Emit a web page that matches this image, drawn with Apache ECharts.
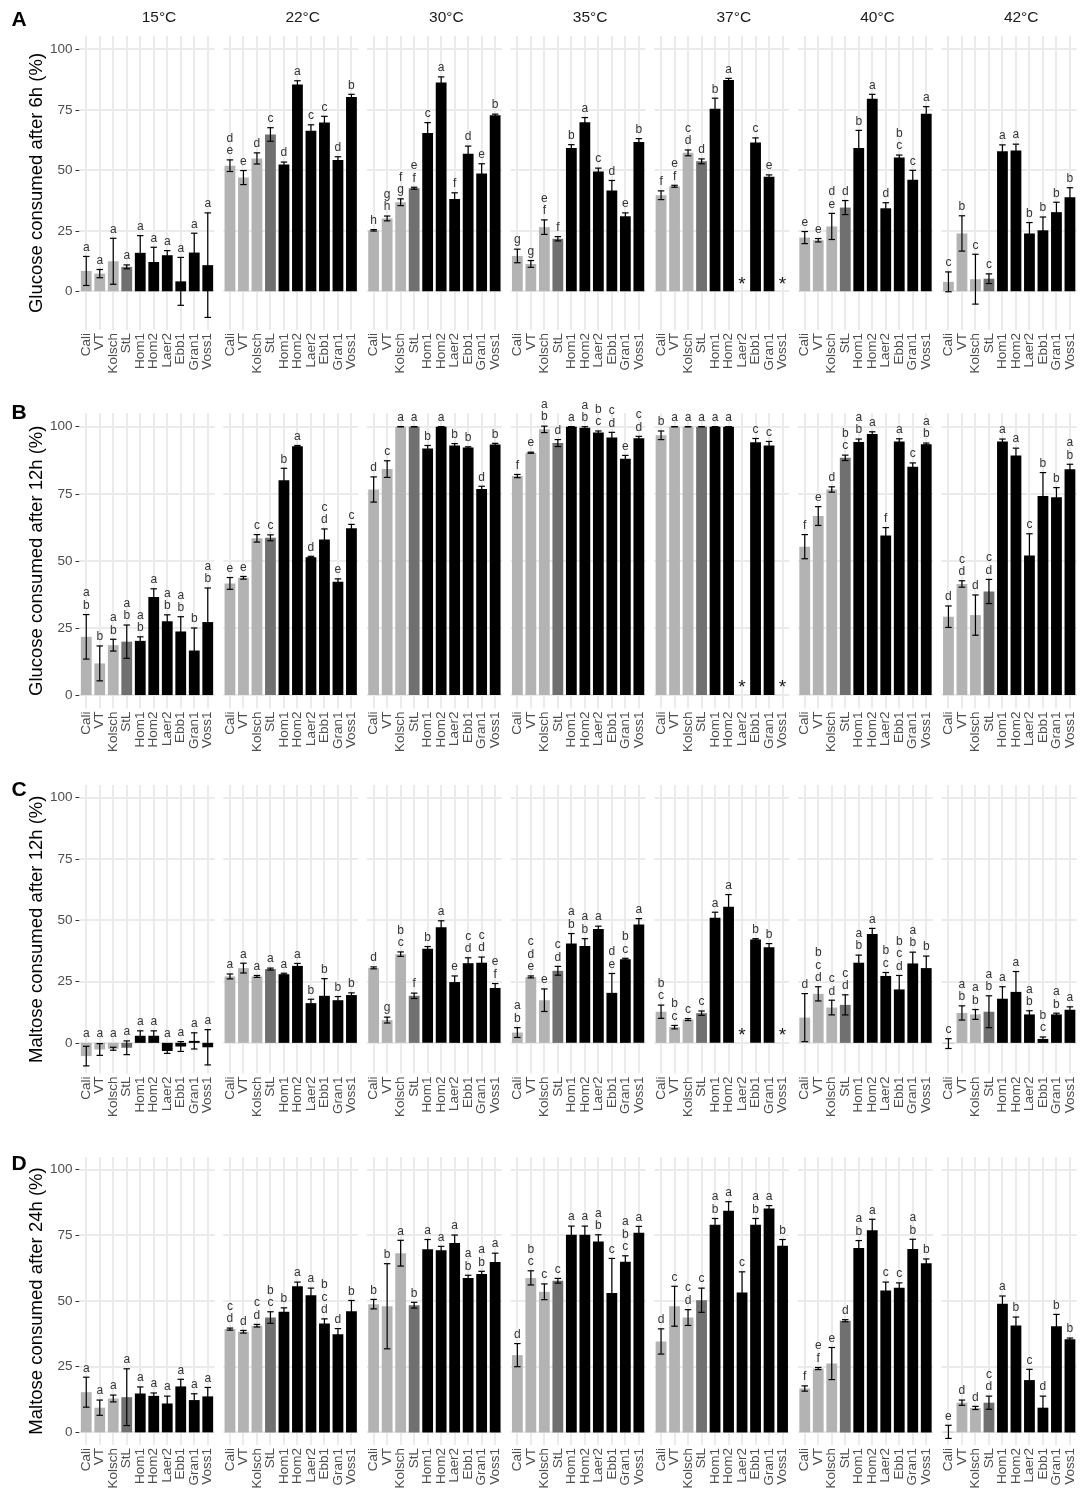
<!DOCTYPE html>
<html><head><meta charset="utf-8">
<script src="https://cdn.jsdelivr.net/npm/echarts@6/dist/echarts.min.js"></script>
<style>html,body{margin:0;padding:0;background:#fff}#c{width:1081px;height:1508px}</style>
</head><body><div id="c"></div><script>
// ---------------- DATA ----------------
const strains = ['Cali','VT','Kolsch','StL','Hom1','Hom2','Laer2','Ebb1','Gran1','Voss1'];
const temps = ['15°C','22°C','30°C','35°C','37°C','40°C','42°C'];
const yTicks = [0, 25, 50, 75, 100];
const rowTags = ['A','B','C','D'];
const rowTitles = ['Glucose consumed after 6h (%)','Glucose consumed after 12h (%)','Maltose consumed after 12h (%)','Maltose consumed after 24h (%)'];

// A: glucose consumed after 6h (%), one inner list per temperature
const glu6Mean = [
  [8.4,7.3,12.4,10.1,15.9,12.1,14.9,4.1,16.0,10.8],
  [51.9,47.0,54.9,64.8,52.4,85.5,66.3,69.8,54.3,80.3],
  [25.2,30.1,36.8,42.6,65.4,86.3,38.1,56.8,48.7,72.7],
  [14.6,11.3,26.5,21.7,59.2,69.9,49.5,41.7,31.0,61.7],
  [39.7,43.4,57.2,53.7,75.4,87.3,null,61.5,47.3,null],
  [22.2,21.1,26.8,34.6,59.2,79.6,34.3,55.3,46.1,73.4],
  [3.9,23.9,5.0,5.2,57.9,58.2,23.9,25.2,32.7,38.9]
];
const glu6Sd = [
  [6.0,1.7,9.5,0.8,7.1,6.1,1.9,9.9,8.0,21.6],
  [2.4,2.9,2.3,2.8,1.0,1.5,2.5,2.5,1.3,1.1],
  [0.3,1.0,1.4,0.4,4.3,2.3,2.6,3.2,4.0,0.5],
  [2.8,1.4,3.0,0.9,1.4,1.9,1.4,4.1,1.4,1.4],
  [1.8,0.4,1.2,1.0,4.4,0.7,null,1.9,0.8,null],
  [2.5,0.7,5.4,2.9,7.3,1.8,2.3,1.0,3.9,2.9],
  [4.1,7.3,10.3,2.0,2.6,2.6,4.5,5.5,4.1,3.9]
];
const glu6Letters = [
  ['a','a','a','a','a','a','a','a','a','a'],
  ['de','e','d','c','d','a','c','c','d','b'],
  ['h','gh','fg','ef','c','a','f','d','e','b'],
  ['g','g','ef','f','b','a','c','d','e','b'],
  ['f','ef','cd','d','b','a','*','c','e','*'],
  ['e','e','de','d','b','a','d','bc','c','a'],
  ['c','b','c','c','a','a','b','b','b','b']
];

// B: glucose consumed after 12h (%)
const glu12Mean = [
  [21.7,11.8,18.6,19.9,20.2,36.5,27.5,23.7,16.6,27.2],
  [41.6,43.7,58.4,58.6,80.0,92.7,51.4,58.0,42.2,62.2],
  [76.6,84.2,100,100,91.9,100,93.0,92.2,76.8,93.4],
  [81.6,90.3,99.0,93.9,100,99.6,97.8,96.0,88.1,95.7],
  [96.8,100,100,100,100,100,null,94.2,93.0,null],
  [55.3,66.7,76.6,88.4,94.3,97.3,59.5,94.5,85.1,93.5],
  [29.2,41.4,29.8,38.6,94.5,89.3,52.0,74.2,73.7,84.1]
];
const glu12Sd = [
  [8.3,6.5,2.2,6.2,1.5,3.1,2.4,5.5,8.4,12.7],
  [2.2,0.5,1.4,1.1,4.5,0.3,0.3,3.9,1.1,1.4],
  [4.7,3.1,0,0,1.1,0,0.7,0.3,1.0,0.4],
  [0.6,0.2,1.2,1.3,0,0.4,0.6,1.9,1.2,0.7],
  [1.6,0,0,0,0,0,null,1.4,1.5,null],
  [4.5,3.5,1.0,1.0,1.1,0.8,2.9,1.0,1.4,0.4],
  [4.0,1.2,7.5,4.5,0.9,2.7,8.1,8.7,3.6,1.9]
];
const glu12Letters = [
  ['ab','b','ab','ab','ab','a','ab','ab','b','ab'],
  ['e','e','c','c','b','a','d','cd','e','c'],
  ['d','c','a','a','b','a','b','b','d','b'],
  ['f','e','ab','d','a','ab','bc','cd','e','cd'],
  ['b','a','a','a','a','a','*','c','c','*'],
  ['f','e','d','bc','ab','a','f','a','c','ab'],
  ['d','cd','d','cd','a','a','c','b','b','ab']
];

// C: maltose consumed after 12h (%)
const mal12Mean = [
  [-5.4,-2.7,-2.4,-2.0,2.9,2.9,-3.3,-1.5,0.8,-1.8],
  [27.1,30.5,27.1,30.1,28.0,31.4,16.2,19.2,17.4,19.5],
  [30.6,9.3,36.2,19.2,38.4,47.2,24.8,32.5,32.7,22.4],
  [4.2,26.9,17.4,29.4,40.5,39.5,46.5,20.4,34.1,48.3],
  [12.7,6.4,9.5,12.1,51.0,55.5,null,42.2,39.0,null],
  [10.3,20.0,14.4,15.5,32.7,44.4,27.3,21.8,32.4,30.5],
  [-0.3,12.2,11.6,12.7,18.0,20.8,11.6,1.6,11.6,13.5]
];
const mal12Sd = [
  [4.0,2.4,0.6,2.8,2.0,2.0,1.0,2.0,3.3,7.2],
  [1.0,2.0,0.4,0.4,0.4,1.0,1.6,7.0,1.5,0.9],
  [0.4,1.2,0.9,1.1,0.9,2.6,2.5,2.2,2.3,1.8],
  [2.0,0.4,4.6,1.8,4.1,3.0,1.1,7.9,0.4,2.4],
  [2.7,0.7,0.4,0.9,2.3,5.0,null,0.3,1.5,null],
  [9.8,2.9,3.0,4.1,3.1,2.3,1.4,5.7,4.6,4.9],
  [2.0,2.9,2.0,6.5,4.9,8.3,1.5,0.8,0.5,1.2]
];
const mal12Letters = [
  ['a','a','a','a','a','a','a','a','a','a'],
  ['a','a','a','a','a','a','b','b','b','b'],
  ['d','g','bc','f','b','a','e','cd','cd','ef'],
  ['ab','cde','e','cd','ab','ab','a','de','bc','a'],
  ['bc','bc','c','c','a','a','*','b','b','*'],
  ['d','bcd','cd','cd','ab','a','bc','bcd','ab','b'],
  ['c','ab','ab','ab','a','a','ab','bc','ab','a']
];

// D: maltose consumed after 24h (%)
const mal24Mean = [
  [15.3,9.4,12.9,13.4,14.8,13.9,11.0,17.5,12.3,13.7],
  [39.3,38.3,40.6,43.7,45.9,55.6,52.2,41.4,37.3,46.1],
  [48.8,48.0,68.2,48.4,69.7,69.3,72.1,58.8,60.3,64.8],
  [29.4,58.8,53.5,57.7,75.2,75.2,72.6,53.0,64.9,76.0],
  [34.6,48.0,43.7,50.3,79.0,84.3,53.2,79.0,85.2,71.0],
  [16.7,24.3,26.2,42.5,70.2,76.9,54.0,55.0,69.8,64.4],
  [0.2,11.3,9.3,11.3,49.0,40.7,19.9,9.4,40.4,35.4]
];
const mal24Sd = [
  [5.7,2.9,1.3,10.8,2.5,1.1,2.8,2.7,2.4,3.4],
  [0.4,0.5,0.5,2.2,1.5,1.6,2.7,1.8,2.2,4.1],
  [1.8,16.2,4.9,1.1,3.7,1.5,3.0,1.0,1.0,3.4],
  [4.4,2.7,3.0,0.9,3.3,3.3,2.6,13.2,2.3,2.4],
  [4.8,7.6,3.0,4.6,2.4,3.5,7.9,2.4,1.1,2.4],
  [1.0,0.4,6.1,0.4,2.8,4.2,3.2,1.9,3.7,1.6],
  [2.5,1.0,0.6,2.5,2.9,3.2,4.1,4.4,4.5,0.5]
];
const mal24Letters = [
  ['a','a','a','a','a','a','a','a','a','a'],
  ['cd','d','cd','bc','b','a','a','bcd','d','b'],
  ['b','b','a','b','a','a','a','ab','ab','a'],
  ['d','bc','c','c','a','a','ab','c','abc','a'],
  ['d','c','cd','c','ab','a','c','ab','a','b'],
  ['f','ef','e','d','ab','a','c','c','ab','b'],
  ['e','d','d','cd','a','b','c','d','b','b']
];

// ---------------- STYLE / LAYOUT ----------------
const FONT = '"Liberation Sans", Arial, Helvetica, sans-serif';
const LIGHT = '#B3B3B3', DARK = '#707070', BLACK = '#000000', GRID = '#EBEBEB';
function barColor(i){ return i < 3 ? LIGHT : (i === 3 ? DARK : BLACK); }

const rowsMean = [glu6Mean, glu12Mean, mal12Mean, mal24Mean];
const rowsSd = [glu6Sd, glu12Sd, mal12Sd, mal24Sd];
const rowsLetters = [glu6Letters, glu12Letters, mal12Letters, mal24Letters];

const PANEL_LEFT = 79.5, PANEL_STEP = 143.7, PANEL_W = 135;
const rowGeom = [
  {top: 36,   height: 294,   min: -16,  max: 105.5, tagY: 20},
  {top: 413,  height: 295.5, min: -5,   max: 105.1, tagY: 413},
  {top: 785,  height: 288.5, min: -12.5,max: 105.2, tagY: 790},
  {top: 1157, height: 288,   min: -4.8, max: 104.8, tagY: 1164}
];

const grids = [], xAxes = [], yAxes = [], series = [], graphics = [];

function bgRender(params, api){
  const i = params.dataIndex;
  const cs = params.coordSys;
  const cx = Math.round(api.coord([i, 0])[0]);
  const kids = [{type:'line', shape:{x1:cx, y1:cs.y, x2:cx, y2:cs.y + cs.height},
                 style:{stroke:GRID, lineWidth:2}}];
  if (i === 0) {
    yTicks.forEach(function(v){
      const y = Math.round(api.coord([0, v])[1]);
      kids.push({type:'line', shape:{x1:cs.x, y1:y, x2:cs.x + cs.width, y2:y},
                 style:{stroke:GRID, lineWidth:2}});
    });
  }
  return {type:'group', children:kids};
}

function makeErrRender(means, sds, letters){
  return function(params, api){
    const i = params.dataIndex;
    const m = means[i], s = sds[i];
    const cx = api.coord([i, 0])[0];
    const bw = api.size([1, 0])[0];
    const half = bw * 0.24;
    const kids = [];
    let topVal = 0;
    if (m != null) {
      const yt = api.coord([i, m + s])[1];
      const yb = api.coord([i, m - s])[1];
      kids.push({type:'line', shape:{x1:cx, y1:yt, x2:cx, y2:yb}, style:{stroke:'#000', lineWidth:1.2}});
      kids.push({type:'line', shape:{x1:cx-half, y1:yt, x2:cx+half, y2:yt}, style:{stroke:'#000', lineWidth:1.2}});
      kids.push({type:'line', shape:{x1:cx-half, y1:yb, x2:cx+half, y2:yb}, style:{stroke:'#000', lineWidth:1.2}});
      topVal = Math.max(m + s, 0);
    }
    const ybase = api.coord([i, topVal])[1];
    const lab = letters[i];
    if (lab === '*') {
      kids.push({type:'text', style:{text:'*', x:cx, y:ybase - 7, align:'center', verticalAlign:'middle',
                 fontSize:19, fill:'#1A1A1A', fontFamily:FONT}});
    } else {
      const chars = lab.split('');
      chars.forEach(function(ch, k){
        kids.push({type:'text', style:{text:ch, x:cx, y:ybase - 9 - (chars.length - 1 - k) * 12.5,
                   align:'center', verticalAlign:'middle', fontSize:12, fill:'#333333', fontFamily:FONT}});
      });
    }
    return {type:'group', children:kids};
  };
}

rowGeom.forEach(function(g, r){
  for (let k = 0; k < temps.length; k++) {
    const gi = r * temps.length + k;
    const left = PANEL_LEFT + k * PANEL_STEP;
    grids.push({left:left, top:g.top, width:PANEL_W, height:g.height, containLabel:false});
    xAxes.push({
      type:'category', gridIndex:gi, data:strains,
      axisLine:{show:false},
      axisTick:{show:true, alignWithLabel:true, length:4, lineStyle:{color:'#333333', width:1}},
      axisLabel:{rotate:90, interval:0, fontSize:13.5, color:'#4D4D4D', margin:3, fontFamily:FONT},
      splitLine:{show:false}
    });
    const ya = {
      type:'value', gridIndex:gi, min:g.min, max:g.max,
      minInterval:25, maxInterval:25,
      splitLine:{show:false}, axisLine:{show:false}
    };
    if (k === 0) {
      ya.axisTick = {show:true, length:4, lineStyle:{color:'#333333', width:1}, customValues:yTicks};
      ya.axisLabel = {show:true, fontSize:13.5, color:'#4D4D4D', margin:7, fontFamily:FONT,
                      customValues:yTicks};
      ya.name = rowTitles[r];
      ya.nameLocation = 'middle';
      ya.nameGap = 29;
      ya.nameTextStyle = {fontSize:18.5, color:'#000000', fontFamily:FONT};
    } else {
      ya.axisTick = {show:false};
      ya.axisLabel = {show:false};
    }
    yAxes.push(ya);

    const means = rowsMean[r][k], sds = rowsSd[r][k], lets = rowsLetters[r][k];
    series.push({
      type:'custom', xAxisIndex:gi, yAxisIndex:gi, z:1, silent:true, clip:false,
      renderItem:bgRender,
      data: strains.map(function(s, i){ return [i, 0]; }),
      encode:{x:0, y:1}
    });
    series.push({
      type:'bar', xAxisIndex:gi, yAxisIndex:gi, z:2, barWidth:'80%', silent:true,
      data: means.map(function(v, i){ return {value:v, itemStyle:{color:barColor(i)}}; })
    });
    series.push({
      type:'custom', xAxisIndex:gi, yAxisIndex:gi, z:3, silent:true, clip:false,
      renderItem:makeErrRender(means, sds, lets),
      data: means.map(function(v, i){ return [i, v == null ? 0 : v]; }),
      encode:{x:0, y:1}
    });
  }
  graphics.push({type:'text', x:19, y:g.tagY,
    style:{text:rowTags[r], align:'center', verticalAlign:'middle', fill:'#000', font:'bold 21px ' + FONT}});
});

// strip titles (top row only)
temps.forEach(function(t, k){
  graphics.push({type:'text', x: PANEL_LEFT + k * PANEL_STEP + PANEL_W / 2 + 12, y: 18,
    style:{text:t, align:'center', verticalAlign:'middle', fontSize:15.5, fill:'#1A1A1A', fontFamily:FONT}});
});

const chart = echarts.init(document.getElementById('c'), null, {renderer:'canvas'});
chart.setOption({
  animation:false,
  backgroundColor:'#ffffff',
  grid:grids, xAxis:xAxes, yAxis:yAxes, series:series, graphic:graphics
});
</script></body></html>
